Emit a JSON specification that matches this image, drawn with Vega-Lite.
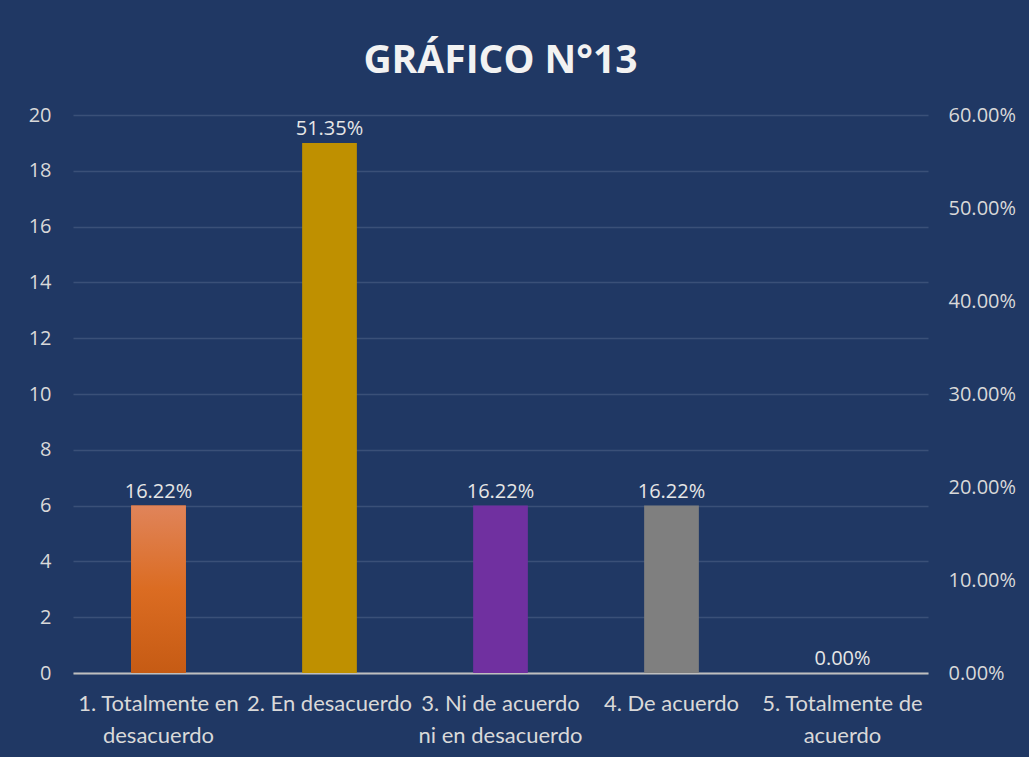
{
  "$schema": "https://vega.github.io/schema/vega-lite/v6.json",
  "width": 855,
  "height": 558,
  "autosize": {"type": "none"},
  "padding": {"left": 73, "top": 115, "right": 101, "bottom": 84},
  "background": "#203864",
  "title": {
    "text": "GRÁFICO N°13",
    "font": "Open Sans",
    "fontSize": 39,
    "fontWeight": "bold",
    "color": "#F2F2F2",
    "anchor": "middle",
    "baseline": "alphabetic",
    "offset": 40,
    "dy": 47
  },
  "config": {
    "view": {"stroke": null},
    "axis": {"labelColor": "#D9D9D9", "labelFont": "Open Sans", "labelFontSize": 20}
  },
  "data": {
    "values": [
      {"respuesta": "1. Totalmente en desacuerdo", "n": 6, "pct": 0.1622},
      {"respuesta": "2. En desacuerdo", "n": 19, "pct": 0.5135},
      {"respuesta": "3. Ni de acuerdo ni en desacuerdo", "n": 6, "pct": 0.1622},
      {"respuesta": "4. De acuerdo", "n": 6, "pct": 0.1622},
      {"respuesta": "5. Totalmente de acuerdo", "n": 0, "pct": 0}
    ]
  },
  "encoding": {
    "x": {
      "field": "respuesta",
      "type": "nominal",
      "sort": null,
      "scale": {"paddingInner": 0.68, "paddingOuter": 0.34},
      "axis": {
        "title": null,
        "labelAngle": 0,
        "ticks": false,
        "domainColor": "#BFBFBF",
        "domainWidth": 2,
        "labelFont": "Lato",
        "labelFontSize": 22,
        "labelPadding": 20,
        "labelLineHeight": 32,
        "labelBaseline": "top",
        "labelExpr": "datum.label == '1. Totalmente en desacuerdo' ? ['1. Totalmente en', 'desacuerdo'] : datum.label == '3. Ni de acuerdo ni en desacuerdo' ? ['3. Ni de acuerdo', 'ni en desacuerdo'] : datum.label == '5. Totalmente de acuerdo' ? ['5. Totalmente de', 'acuerdo'] : datum.label"
      }
    }
  },
  "layer": [
    {
      "mark": {"type": "bar"},
      "encoding": {
        "y": {
          "field": "n",
          "type": "quantitative",
          "scale": {"domain": [0, 20]},
          "axis": {
            "title": null,
            "orient": "left",
            "values": [0, 2, 4, 6, 8, 10, 12, 14, 16, 18, 20],
            "domain": false,
            "ticks": false,
            "labelPadding": 22,
            "gridColor": "#3A5078",
            "gridWidth": 1.5
          }
        },
        "color": {
          "field": "respuesta",
          "type": "nominal",
          "legend": null,
          "scale": {
            "domain": ["1. Totalmente en desacuerdo", "2. En desacuerdo", "3. Ni de acuerdo ni en desacuerdo", "4. De acuerdo", "5. Totalmente de acuerdo"],
            "range": ["#D9691F", "#BF9000", "#7030A0", "#7F7F7F", "#4472C4"]
          }
        }
      }
    },
    {
      "transform": [{"filter": "datum.respuesta == '1. Totalmente en desacuerdo'"}],
      "mark": {
        "type": "bar",
        "color": {
          "gradient": "linear",
          "x1": 0, "y1": 0, "x2": 0, "y2": 1,
          "stops": [
            {"offset": 0, "color": "#E0845A"},
            {"offset": 0.5, "color": "#DB6C22"},
            {"offset": 1, "color": "#C65B14"}
          ]
        }
      },
      "encoding": {
        "y": {"field": "n", "type": "quantitative", "scale": {"domain": [0, 20]}, "axis": null}
      }
    },
    {
      "mark": {"type": "text", "baseline": "bottom", "dy": -4, "font": "Open Sans", "fontSize": 20, "color": "#E6E6E6"},
      "encoding": {
        "y": {"field": "n", "type": "quantitative", "scale": {"domain": [0, 20]}, "axis": null},
        "text": {"field": "pct", "type": "quantitative", "format": ".2%"}
      }
    },
    {
      "mark": {"type": "bar", "opacity": 0},
      "encoding": {
        "y": {
          "field": "pct",
          "type": "quantitative",
          "scale": {"domain": [0, 0.6]},
          "axis": {
            "title": null,
            "orient": "right",
            "format": ".2%",
            "values": [0, 0.1, 0.2, 0.3, 0.4, 0.5, 0.6],
            "domain": false,
            "ticks": false,
            "grid": false,
            "labelPadding": 20
          }
        }
      }
    }
  ],
  "resolve": {"scale": {"y": "independent"}}
}
